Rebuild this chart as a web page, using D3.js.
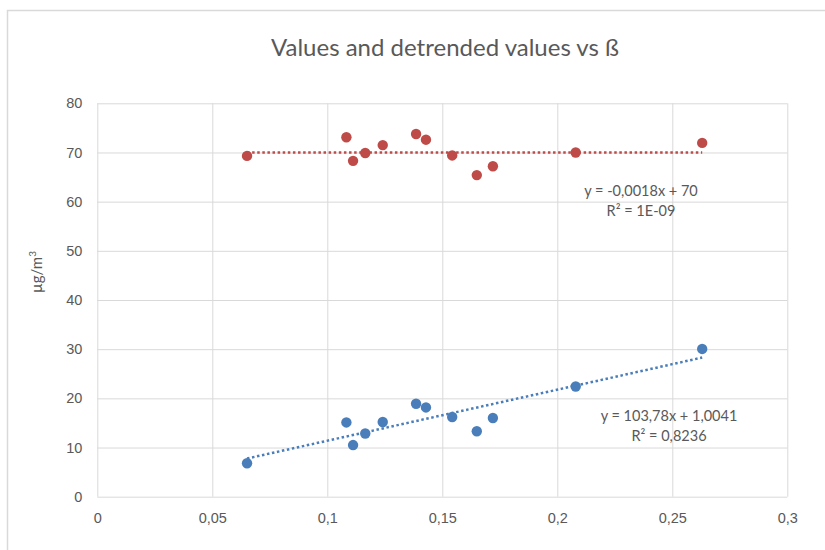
<!DOCTYPE html>
<html>
<head>
<meta charset="utf-8">
<script src="https://cdn.jsdelivr.net/npm/d3@7"></script>
<style>
  html, body { margin: 0; padding: 0; background: #fff; }
  svg { display: block; font-family: Lato, "Open Sans", sans-serif; }
</style>
</head>
<body>
<svg id="chart" width="825" height="550"></svg>
<script>
// β values shared by both series
const betaValues = [0.0651, 0.1083, 0.1112, 0.1165, 0.1241, 0.1386, 0.1429, 0.1543, 0.1650, 0.1720, 0.2080, 0.2630];
// measured concentrations (blue) and detrended concentrations (red)
const measured  = [6.8, 15.1, 10.5, 12.85, 15.2, 18.9, 18.15, 16.2, 13.3, 16.0, 22.4, 30.05];
const detrended = [69.3, 73.1, 68.3, 69.9, 71.5, 73.75, 72.6, 69.4, 65.4, 67.2, 70.0, 71.95];
// linear trend fits: slope, intercept, R²
const measuredFit  = { slope: 103.78, intercept: 1.0041, label: "y = 103,78x + 1,0041", r2: "R² = 0,8236" };
const detrendedFit = { slope: -0.0018, intercept: 70,    label: "y = -0,0018x + 70",    r2: "R² = 1E-09" };
const xTicks = [0, 0.05, 0.1, 0.15, 0.2, 0.25, 0.3];
const yTicks = [0, 10, 20, 30, 40, 50, 60, 70, 80];

const svg = d3.select("#chart");
const grid = "#d9d9d9", textCol = "#595959";
const blue = "#4a7ebb", red = "#be4b48";

// outer chart frame
svg.append("rect").attr("x", 7.5).attr("y", 10.5).attr("width", 840).attr("height", 560)
  .attr("fill", "none").attr("stroke", grid).attr("stroke-width", 1.5);

const x = d3.scaleLinear().domain([0, 0.3]).range([97.3, 787.3]);
const y = d3.scaleLinear().domain([0, 80]).range([496.7, 103.3]);

const fmt = d => String(d).replace(".", ",");

// vertical gridlines + x labels
const xAxis = d3.axisBottom(x).tickValues(xTicks).tickSize(-(y(0) - y(80))).tickFormat(fmt).tickPadding(16);
const gx = svg.append("g").attr("transform", `translate(0,${y(0)})`).call(xAxis);
gx.select(".domain").remove();
gx.selectAll("line").attr("stroke", grid);
gx.selectAll("text").attr("fill", textCol).attr("font-size", 14.5);

// horizontal gridlines + y labels
const yAxis = d3.axisLeft(y).tickValues(yTicks).tickSize(-(x(0.3) - x(0))).tickPadding(15);
const gy = svg.append("g").attr("transform", `translate(${x(0)},0)`).call(yAxis);
gy.select(".domain").remove();
gy.selectAll("line").attr("stroke", grid);
gy.selectAll("text").attr("fill", textCol).attr("font-size", 14.5);

// title
svg.append("text").attr("x", 445).attr("y", 56).attr("text-anchor", "middle")
  .attr("fill", textCol).attr("font-size", 24).text("Values and detrended values vs ß");

// y-axis title
svg.append("text").attr("transform", `translate(42,272) rotate(-90)`).attr("text-anchor", "middle")
  .attr("fill", textCol).attr("font-size", 15)
  .html('µg/m<tspan dy="-6" font-size="10">3</tspan>');

const xMin = d3.min(betaValues), xMax = d3.max(betaValues);

function drawSeries(values, fit, color) {
  const pts = betaValues.map((b, i) => ({ b, v: values[i] }));
  svg.append("line")
    .attr("x1", x(xMin)).attr("y1", y(fit.slope * xMin + fit.intercept))
    .attr("x2", x(xMax)).attr("y2", y(fit.slope * xMax + fit.intercept))
    .attr("stroke", color).attr("stroke-width", 2.5).attr("stroke-dasharray", "2.5 2.6");
  svg.append("g").selectAll("circle").data(pts).join("circle")
    .attr("cx", d => x(d.b)).attr("cy", d => y(d.v)).attr("r", 5.2)
    .attr("fill", color);
}
drawSeries(detrended, detrendedFit, red);
drawSeries(measured, measuredFit, blue);

// trend equations
function fitLabel(fit, cx, cy) {
  const t = svg.append("text").attr("text-anchor", "middle").attr("fill", textCol).attr("font-size", 14.5);
  t.append("tspan").attr("x", cx).attr("y", cy).text(fit.label);
  t.append("tspan").attr("x", cx).attr("y", cy + 19.5).text(fit.r2);
}
fitLabel(detrendedFit, 641, 196);
fitLabel(measuredFit, 669, 421);
</script>
</body>
</html>
